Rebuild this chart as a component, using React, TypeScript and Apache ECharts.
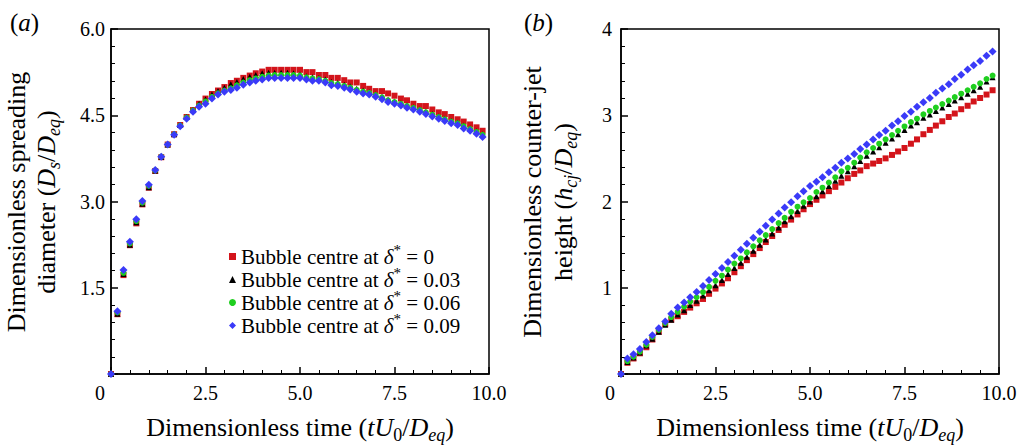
import React, { useEffect, useRef } from 'react';
import * as echarts from 'echarts';

// Dimensionless time tU0/Deq (same for all series)
const time = [0, 0.17, 0.33, 0.5, 0.67, 0.83, 1, 1.17, 1.33, 1.5, 1.67, 1.83, 2, 2.17, 2.33, 2.5, 2.67, 2.83, 3, 3.17, 3.33, 3.5, 3.67, 3.83, 4, 4.17, 4.33, 4.5, 4.67, 4.83, 5, 5.17, 5.33, 5.5, 5.67, 5.83, 6, 6.17, 6.33, 6.5, 6.67, 6.83, 7, 7.17, 7.33, 7.5, 7.67, 7.83, 8, 8.17, 8.33, 8.5, 8.67, 8.83, 9, 9.17, 9.33, 9.5, 9.67, 9.83];

// (a) spreading diameter Ds/Deq
const spreadD0 = [0, 1.04, 1.72, 2.24, 2.62, 2.95, 3.24, 3.53, 3.77, 3.99, 4.17, 4.33, 4.47, 4.59, 4.70, 4.79, 4.87, 4.93, 4.99, 5.06, 5.10, 5.15, 5.19, 5.23, 5.26, 5.29, 5.29, 5.29, 5.29, 5.29, 5.29, 5.25, 5.25, 5.20, 5.20, 5.15, 5.15, 5.11, 5.07, 5.07, 5.01, 4.96, 4.92, 4.92, 4.88, 4.84, 4.79, 4.76, 4.70, 4.66, 4.66, 4.60, 4.55, 4.52, 4.47, 4.43, 4.39, 4.34, 4.29, 4.23];
const spreadD3 = [0, 1.05, 1.74, 2.25, 2.64, 2.96, 3.25, 3.54, 3.78, 3.99, 4.17, 4.33, 4.47, 4.59, 4.70, 4.78, 4.86, 4.92, 4.98, 5.04, 5.08, 5.13, 5.17, 5.20, 5.23, 5.24, 5.24, 5.24, 5.24, 5.23, 5.21, 5.18, 5.16, 5.15, 5.12, 5.08, 5.06, 5.03, 5.00, 4.96, 4.93, 4.90, 4.86, 4.82, 4.77, 4.74, 4.71, 4.67, 4.64, 4.60, 4.56, 4.52, 4.48, 4.44, 4.40, 4.37, 4.32, 4.27, 4.22, 4.17];
const spreadD6 = [0, 1.07, 1.76, 2.27, 2.66, 2.98, 3.27, 3.54, 3.78, 3.99, 4.17, 4.32, 4.46, 4.58, 4.67, 4.74, 4.82, 4.88, 4.93, 4.97, 5.02, 5.07, 5.11, 5.14, 5.17, 5.19, 5.20, 5.20, 5.20, 5.20, 5.19, 5.16, 5.14, 5.13, 5.10, 5.06, 5.04, 5.01, 4.98, 4.94, 4.91, 4.89, 4.85, 4.81, 4.76, 4.73, 4.70, 4.66, 4.63, 4.59, 4.55, 4.51, 4.47, 4.43, 4.39, 4.36, 4.31, 4.26, 4.21, 4.16];
const spreadD9 = [0, 1.09, 1.81, 2.30, 2.69, 3.01, 3.29, 3.55, 3.78, 3.99, 4.16, 4.31, 4.44, 4.56, 4.65, 4.70, 4.79, 4.86, 4.91, 4.94, 4.98, 5.03, 5.07, 5.10, 5.12, 5.15, 5.15, 5.15, 5.15, 5.15, 5.15, 5.12, 5.10, 5.10, 5.07, 5.02, 5.01, 4.98, 4.95, 4.91, 4.88, 4.86, 4.82, 4.78, 4.73, 4.70, 4.67, 4.63, 4.60, 4.56, 4.52, 4.48, 4.44, 4.40, 4.36, 4.33, 4.27, 4.23, 4.18, 4.12];

// (b) counter-jet height hcj/Deq
const jetD0 = [0, 0.13, 0.18, 0.24, 0.31, 0.40, 0.49, 0.58, 0.63, 0.67, 0.72, 0.77, 0.82, 0.87, 0.93, 0.99, 1.05, 1.11, 1.18, 1.25, 1.32, 1.39, 1.46, 1.53, 1.60, 1.67, 1.73, 1.79, 1.85, 1.91, 1.97, 2.02, 2.07, 2.12, 2.17, 2.22, 2.27, 2.32, 2.36, 2.41, 2.44, 2.47, 2.50, 2.54, 2.58, 2.62, 2.67, 2.72, 2.78, 2.83, 2.88, 2.93, 2.98, 3.02, 3.07, 3.11, 3.16, 3.20, 3.24, 3.29];
const jetD3 = [0, 0.14, 0.19, 0.25, 0.33, 0.41, 0.49, 0.57, 0.63, 0.69, 0.74, 0.80, 0.85, 0.91, 0.97, 1.03, 1.09, 1.16, 1.23, 1.29, 1.36, 1.43, 1.50, 1.56, 1.63, 1.70, 1.77, 1.83, 1.89, 1.95, 2.00, 2.06, 2.12, 2.18, 2.24, 2.30, 2.35, 2.41, 2.47, 2.53, 2.58, 2.63, 2.68, 2.73, 2.78, 2.83, 2.88, 2.92, 2.97, 3.01, 3.05, 3.09, 3.13, 3.17, 3.21, 3.25, 3.29, 3.33, 3.39, 3.44];
const jetD6 = [0, 0.15, 0.20, 0.26, 0.34, 0.43, 0.51, 0.59, 0.66, 0.72, 0.78, 0.84, 0.89, 0.95, 1.01, 1.08, 1.14, 1.21, 1.28, 1.34, 1.41, 1.48, 1.55, 1.61, 1.68, 1.75, 1.81, 1.88, 1.94, 1.99, 2.04, 2.11, 2.16, 2.22, 2.28, 2.35, 2.39, 2.45, 2.51, 2.57, 2.62, 2.67, 2.72, 2.77, 2.82, 2.87, 2.92, 2.96, 3.01, 3.05, 3.09, 3.13, 3.17, 3.21, 3.25, 3.29, 3.33, 3.37, 3.42, 3.46];
const jetD9 = [0, 0.18, 0.23, 0.29, 0.37, 0.45, 0.53, 0.61, 0.70, 0.77, 0.83, 0.89, 0.95, 1.02, 1.09, 1.16, 1.23, 1.30, 1.37, 1.44, 1.51, 1.58, 1.65, 1.72, 1.79, 1.86, 1.93, 1.99, 2.06, 2.12, 2.18, 2.23, 2.28, 2.34, 2.39, 2.45, 2.50, 2.55, 2.61, 2.66, 2.72, 2.77, 2.82, 2.88, 2.93, 2.99, 3.04, 3.10, 3.15, 3.20, 3.26, 3.31, 3.36, 3.42, 3.47, 3.53, 3.58, 3.63, 3.69, 3.74];

const seriesNames = [
  'Bubble centre at {d|δ}{s|*} = 0',
  'Bubble centre at {d|δ}{s|*} = 0.03',
  'Bubble centre at {d|δ}{s|*} = 0.06',
  'Bubble centre at {d|δ}{s|*} = 0.09',
];

const FONT = "'Liberation Serif', 'Times New Roman', Times, serif";
const COLORS = ['#d3141b', '#000000', '#1fcf1f', '#3a3af8'];
const SYMBOLS = ['rect', 'triangle', 'circle', 'diamond'];
const SIZES = [6, 6, 6, 8];

const tk = (size: number, italic: boolean, padding?: number[], lh?: number) => {
  const o: any = {
    fontFamily: FONT,
    fontSize: size,
    fontStyle: italic ? 'italic' : 'normal',
    color: '#000',
    fill: '#000',
  };
  if (lh) o.lineHeight = lh;
  if (padding) o.padding = padding;
  return o;
};

const titleRich = {
  n: tk(26, false, undefined, 30),
  i: tk(26, true, undefined, 30),
  sub: tk(18, false, [16, 0, 0, 0], 30),
  isub: tk(18, true, [16, 0, 0, 0], 30),
};

export default function App() {
  const ref = useRef<HTMLDivElement>(null);

  useEffect(() => {
    if (!ref.current) return;
    const chart = echarts.init(ref.current, undefined, { renderer: 'svg' });

    const grids = [
      { left: 111, top: 29, width: 378, height: 345 },
      { left: 621, top: 29, width: 378, height: 345 },
    ];

    const axisCommon = {
      axisLine: { show: true, lineStyle: { color: '#000', width: 1.5 } },
      axisTick: { show: true, inside: true, length: 7, lineStyle: { color: '#000', width: 1.5 } },
      minorTick: { show: true, splitNumber: 5, length: 4, lineStyle: { color: '#000', width: 1 } },
      splitLine: { show: false },
      minorSplitLine: { show: false },
    };

    const xAxes = [0, 1].map((g) => ({
      type: 'value',
      gridIndex: g,
      min: 0,
      max: 10,
      interval: 2.5,
      ...axisCommon,
      axisLabel: {
        show: true,
        margin: 9,
        showMinLabel: true,
        showMaxLabel: true,
        fontFamily: FONT,
        fontSize: 20,
        color: '#000',
        formatter: (v: number) => (v === 0 ? '{z|0}' : v.toFixed(1)),
        rich: { z: { fontFamily: FONT, fontSize: 20, color: '#000', padding: [0, 22, 0, 0] } },
      },
    }));

    const yAxes = [
      {
        type: 'value',
        gridIndex: 0,
        min: 0,
        max: 6,
        interval: 1.5,
        ...axisCommon,
        axisLabel: {
          show: true,
          margin: 6,
          fontFamily: FONT,
          fontSize: 20,
          color: '#000',
          formatter: (v: number) => (v === 0 ? '' : v.toFixed(1)),
        },
      },
      {
        type: 'value',
        gridIndex: 1,
        min: 0,
        max: 4,
        interval: 1,
        ...axisCommon,
        axisLabel: {
          show: true,
          margin: 9,
          fontFamily: FONT,
          fontSize: 20,
          color: '#000',
          formatter: (v: number) => (v === 0 ? '' : String(v)),
        },
      },
    ];

    const leftData = [spreadD0, spreadD3, spreadD6, spreadD9];
    const rightData = [jetD0, jetD3, jetD6, jetD9];

    const series: any[] = [];
    [leftData, rightData].forEach((group, g) => {
      group.forEach((arr, k) => {
        series.push({
          type: 'scatter',
          name: seriesNames[k],
          xAxisIndex: g,
          yAxisIndex: g,
          symbol: SYMBOLS[k],
          symbolSize: SIZES[k],
          itemStyle: { color: COLORS[k], opacity: 1 },
          emphasis: { disabled: true },
          data: time.map((t, i) => [t, arr[i]]),
          z: 2 + k,
        });
      });
    });

    const legendRich = {
      d: tk(21, true, undefined, 21),
      s: tk(15, false, [0, 0, 14, 0], 21),
    };

    const textEl = (x: number, y: number, text: string, rotate: boolean, align = 'center') => ({
      type: 'text',
      x,
      y,
      rotation: rotate ? Math.PI / 2 : 0,
      silent: true,
      style: {
        text,
        fontFamily: FONT,
        fontSize: 26,
        fill: '#000',
        align,
        verticalAlign: 'middle',
        lineHeight: 30,
        rich: titleRich,
      },
    });

    const panelLabel = (x: number, letter: string) => ({
      type: 'text',
      x,
      y: 22,
      silent: true,
      style: {
        text: '({pi|' + letter + '})',
        fontFamily: FONT,
        fontSize: 25,
        fill: '#000',
        align: 'left',
        verticalAlign: 'middle',
        lineHeight: 28,
        rich: { pi: tk(25, true, undefined, 28) },
      },
    });

    chart.setOption({
      animation: false,
      backgroundColor: '#ffffff',
      grid: grids.map((g) => ({
        ...g,
        show: true,
        borderColor: '#000',
        borderWidth: 1.5,
        backgroundColor: 'transparent',
        containLabel: false,
        outerBoundsMode: 'none',
      })),
      xAxis: xAxes,
      yAxis: yAxes,
      legend: {
        show: true,
        orient: 'vertical',
        left: 229,
        top: 242,
        itemWidth: 7,
        itemHeight: 7,
        itemGap: -6,
        itemTextGap: 17,
        selectedMode: false,
        padding: 0,
        data: seriesNames.map((n, k) => ({ name: n, icon: SYMBOLS[k], itemStyle: { color: COLORS[k] } })),
        textStyle: { fontFamily: FONT, fontSize: 21, color: '#000', lineHeight: 21, rich: legendRich },
      },
      graphic: [
        panelLabel(10, 'a'),
        panelLabel(524, 'b'),
        textEl(300, 427, 'Dimensionless time ({i|t}{i|U}{sub|0}/{i|D}{isub|eq})', false),
        textEl(810, 427, 'Dimensionless time ({i|t}{i|U}{sub|0}/{i|D}{isub|eq})', false),
        textEl(16, 202, 'Dimensionless spreading', true),
        textEl(46, 202, 'diameter ({i|D}{isub|s}/{i|D}{isub|eq})', true),
        textEl(532, 202, 'Dimensionless counter-jet', true),
        textEl(563, 202, 'height ({i|h}{isub|cj}/{i|D}{isub|eq})', true),
      ],
      series,
    });

    return () => chart.dispose();
  }, []);

  return (
    <div
      ref={ref}
      style={{ position: 'absolute', left: 0, top: 0, width: 1023, height: 446, background: '#fff' }}
    />
  );
}
